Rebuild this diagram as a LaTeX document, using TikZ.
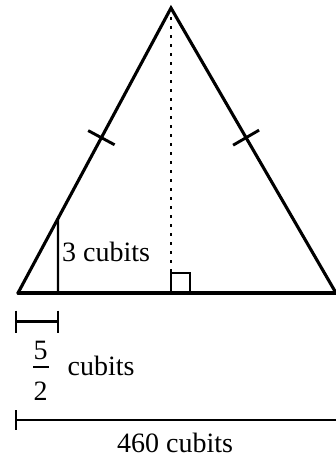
\documentclass[tikz,border=0pt]{standalone}
\usepackage{fontspec}
\setmainfont{Liberation Serif}
\usetikzlibrary{calc}
\tikzset{
  side/.style={line width=3.1pt, line cap=round},
  thin/.style={line width=2.1pt},
  tick/.style={line width=2.9pt},
  dimbar/.style={line width=2.8pt},
  dots/.style={line width=2.2pt, dash pattern=on 2.5pt off 6.5pt},
  lbl/.style={inner sep=0pt, font=\fontsize{28}{33}\selectfont}
}
\begin{document}
\begin{tikzpicture}[x=1pt,y=-1pt]
\useasboundingbox (0,0) rectangle (335,458);
\coordinate (A) at (171,8);
\coordinate (B) at (18,293);
\coordinate (C) at (336,293);
\coordinate (H) at (171,293);
\coordinate (D) at (58,293);
\coordinate (E) at ($(B)!{40/153}!(A)$);
\coordinate (M1) at ($(B)!0.545!(A)$);
\coordinate (M2) at ($(C)!0.545!(A)$);
% triangle
\draw[side] (B) -- (A) -- (C);
\draw[side] (B) -- (C);
% ticks
\draw[tick] ($(M1)!15pt!90:(A)$) -- ($(M1)!15pt!-90:(A)$);
\draw[tick] ($(M2)!15pt!90:(A)$) -- ($(M2)!15pt!-90:(A)$);
% height
\coordinate (Sq) at (171,273);
\draw[dots] (A) -- (Sq);
\draw[thin] (171,273) rectangle (190,293);
% 3 cubits
\draw[thin] (D) -- (E);
\node[lbl, anchor=base west] (t3) at (62,261.5) {3 cubits};
% small dimension
\coordinate (s1) at (16,321.5);
\coordinate (s2) at (58,321.5);
\draw[dimbar] (s1) -- (s2);
\draw[dimbar] ($(s1)+(0,-11)$) -- ($(s1)+(0,11)$);
\draw[dimbar] ($(s2)+(0,-11)$) -- ($(s2)+(0,11)$);
\node[lbl, anchor=base] (n5) at (40.5,359) {5};
\node[lbl, anchor=base] (d2) at (40.5,400) {2};
\draw[line width=2pt] (33,367) -- (49,367);
\node[lbl, anchor=base west] (cu) at (67.5,375) {cubits};
% big dimension
\coordinate (b1) at (16,420);
\coordinate (b2) at (336,420);
\draw[dimbar] (b1) -- (b2);
\draw[dimbar] ($(b1)+(0,-10)$) -- ($(b1)+(0,10)$);
\node[lbl, anchor=base west] (t460) at (117,452) {460 cubits};
\end{tikzpicture}
\end{document}
